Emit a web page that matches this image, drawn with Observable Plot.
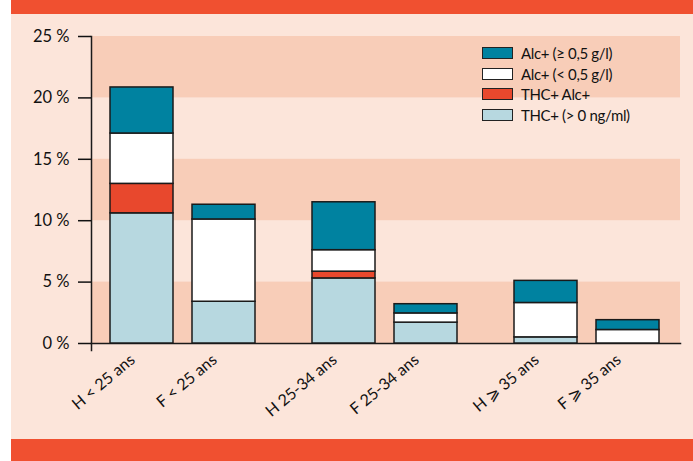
<!DOCTYPE html>
<html>
<head>
<meta charset="utf-8">
<script src="https://cdn.jsdelivr.net/npm/d3@7"></script>
<script src="https://cdn.jsdelivr.net/npm/@observablehq/plot@0.6"></script>
<style>
  html, body { margin: 0; padding: 0; background: #fff; }
  #wrap { position: relative; width: 693px; height: 461px; background: #fff; font-family: "Lato", sans-serif; }
  .strip { position: absolute; left: 11px; width: 682px; background: #f05030; }
  #chart { position: absolute; left: 11px; top: 14px; width: 682px; height: 425px; background: #fce5da; }
  #chart svg { position: absolute; left: 0; top: 0; }
  #legend { position: absolute; left: 482px; top: 42.5px; }
  .row { display: flex; align-items: center; height: 20.8px; }
  .sw { width: 29px; height: 10px; border: 1.3px solid #222; }
  .lab { margin-left: 8px; font-size: 15px; letter-spacing: -0.35px; color: #111; }
</style>
</head>
<body>
<div id="wrap">
  <div class="strip" style="top:0;height:14px"></div>
  <div id="chart"></div>
  <div class="strip" style="top:439px;height:22px"></div>
  <div id="legend"></div>
</div>
<script>
// Categories
const groups = ["< 25 ans", "25-34 ans", "≥ 35 ans"];
const barGroup = ["< 25 ans", "< 25 ans", "25-34 ans", "25-34 ans", "≥ 35 ans", "≥ 35 ans"];
const barSex = ["H", "F", "H", "F", "H", "F"];
const barLabels = ["H < 25 ans", "F < 25 ans", "H 25-34 ans", "F 25-34 ans", "H ⩾ 35 ans", "F ⩾ 35 ans"];

// Series (percent), stacked bottom to top
const seriesNames = ["THC+ (> 0 ng/ml)", "THC+ Alc+", "Alc+ (< 0,5 g/l)", "Alc+ (≥ 0,5 g/l)"];
const seriesColors = ["#b7d8e0", "#e8482d", "#ffffff", "#0082a0"];
const thc     = [10.6, 3.4, 5.3, 1.7, 0.5, 0];
const thcAlc  = [2.4,  0,   0.55, 0,  0,   0];
const alcLow  = [4.1,  6.7, 1.75, 0.75, 2.8, 1.1];
const alcHigh = [3.75, 1.2, 3.9,  0.75, 1.8, 0.8];

// Y ticks & background bands
const yTicks = [0, 5, 10, 15, 20, 25];
const bandStarts = [0, 10, 20];

const seriesValues = [thc, thcAlc, alcLow, alcHigh];
const rows = [];
barLabels.forEach((lab, i) => {
  seriesNames.forEach((s, k) => {
    const v = seriesValues[k][i];
    if (v > 0) rows.push({group: barGroup[i], sex: barSex[i], series: s, value: v});
  });
});
const barRows = barLabels.map((lab, i) => ({group: barGroup[i], sex: barSex[i], label: lab}));

const dims = {width: 682, height: 425, marginTop: 22, marginBottom: 96, marginLeft: 80, marginRight: 13};
const style = {background: "transparent", fontFamily: "Lato, sans-serif", fontSize: "16px", color: "#111", overflow: "visible"};

// Background: bands, axis lines, y axis
const back = Plot.plot({
  ...dims,
  style,
  x: {axis: null},
  y: {domain: [0, 25], axis: null},
  marks: [
    Plot.rect(bandStarts, {y1: d => d, y2: d => d + 5, fill: "#f8cdb8"}),
    Plot.frame({anchor: "bottom", stroke: "#1a1a1a", strokeWidth: 1.5}),
    Plot.frame({anchor: "left", insetBottom: -7, stroke: "#1a1a1a", strokeWidth: 1.5}),
    Plot.axisY({ticks: yTicks, tickFormat: d => d + " %", tickSize: 13, tickPadding: 9, fontSize: 16.5, strokeWidth: 1.5, label: null})
  ]
});

// Foreground: stacked bars (faceted by age group) and bar labels
const front = Plot.plot({
  ...dims,
  style,
  fx: {domain: groups, paddingInner: 0.0985, paddingOuter: 0, axis: null, label: null},
  x: {domain: ["H", "F"], paddingInner: 0.229, paddingOuter: 0.217, axis: null, label: null},
  y: {domain: [0, 25], axis: null},
  color: {domain: seriesNames, range: seriesColors},
  marks: [
    Plot.barY(rows, Plot.stackY({fx: "group", x: "sex", y: "value", fill: "series", stroke: "#1a1a1a", strokeWidth: 1.5})),
    Plot.text(barRows, {fx: "group", x: "sex", text: "label", frameAnchor: "bottom", rotate: -40, textAnchor: "end", dx: -6, dy: 18, fontSize: 16, fill: "#111"})
  ]
});
const chartEl = document.getElementById("chart");
chartEl.appendChild(back);
chartEl.appendChild(front);

// Legend (top to bottom)
const legendOrder = [3, 2, 1, 0];
const leg = document.getElementById("legend");
legendOrder.forEach(k => {
  const r = document.createElement("div");
  r.className = "row";
  r.innerHTML = `<div class="sw" style="background:${seriesColors[k]}"></div><div class="lab">${seriesNames[k]}</div>`;
  leg.appendChild(r);
});
</script>
</body>
</html>
